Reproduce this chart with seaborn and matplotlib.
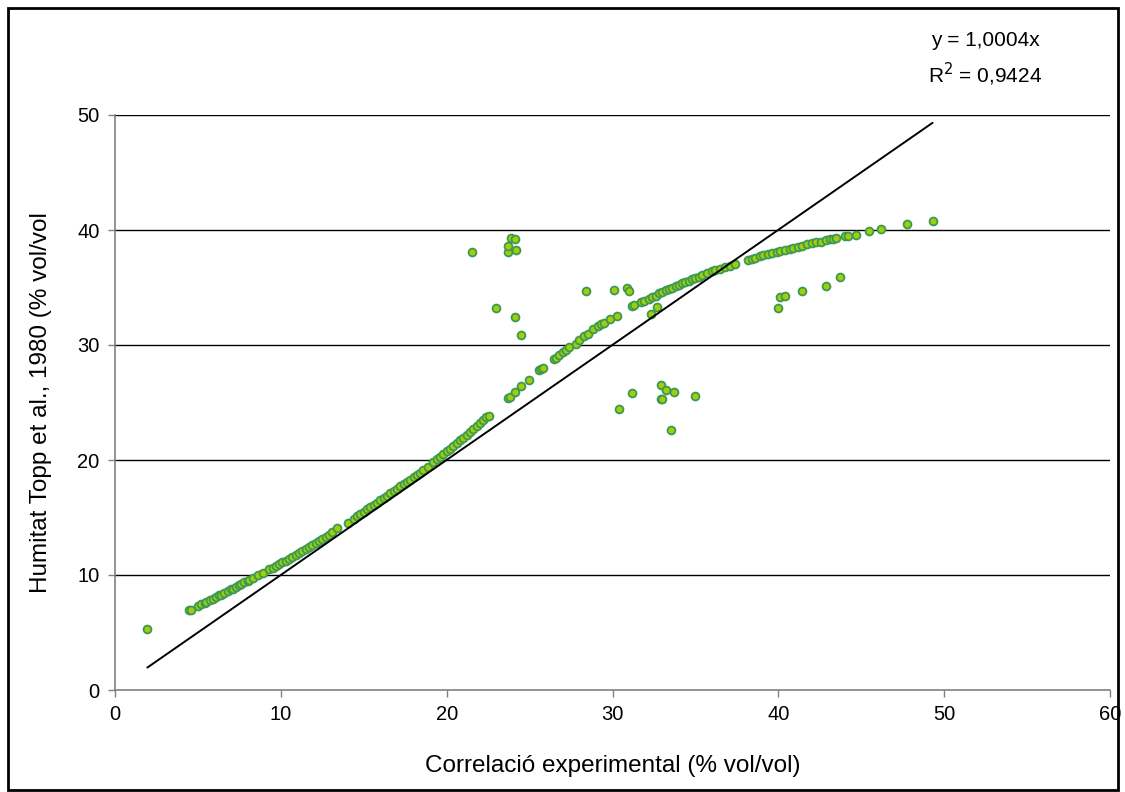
import matplotlib
matplotlib.use("Agg")
import matplotlib.pyplot as plt
from matplotlib.patches import Rectangle
import numpy as np
import pandas as pd
import seaborn as sns

# ---- data ----
curve_x = [
    4.47, 4.6, 5.0, 5.2, 5.4, 5.5, 5.7, 5.9, 6.1, 6.3, 6.4, 6.6, 6.8, 7.0, 7.1, 7.3, 7.5, 7.6, 7.8, 8.0,
    8.1, 8.3, 8.6, 8.9, 9.3, 9.5, 9.7, 9.9, 10.1, 10.3, 10.5, 10.7, 10.9, 11.1, 11.3, 11.5, 11.7, 11.9,
    12.1, 12.3, 12.5, 12.7, 12.9, 13.1, 13.4,
    14.04, 14.4, 14.6, 14.8, 15.0, 15.2, 15.4, 15.6, 15.8, 16.0, 16.2, 16.4, 16.6, 16.8, 17.0, 17.2,
    17.4, 17.6, 17.8, 18.0, 18.2, 18.4, 18.6, 18.9, 19.2, 19.4, 19.6, 19.8, 20.0, 20.2, 20.4, 20.6,
    20.8, 21.0, 21.2, 21.4, 21.6, 21.8, 22.0, 22.2, 22.4, 22.55,
    23.7, 23.8, 24.1, 24.5, 24.96, 25.56, 25.7, 25.8, 26.5, 26.6, 26.8, 27.0, 27.2, 27.4, 27.8, 28.0,
    28.3, 28.5, 28.8, 29.1, 29.3, 29.5, 29.85, 30.3,
    31.2, 31.3, 31.7, 31.9, 32.2, 32.4, 32.6, 32.8, 33.0, 33.2, 33.4, 33.6, 33.8, 34.0, 34.2, 34.4,
    34.6, 34.8, 35.0, 35.2, 35.4, 35.7, 36.0, 36.2, 36.5, 36.8, 37.1, 37.4,
    38.2, 38.4, 38.6, 38.9, 39.1, 39.4, 39.6, 39.9, 40.1, 40.4, 40.7, 40.9, 41.2, 41.4, 41.7, 42.0,
    42.3, 42.6, 42.9, 43.1, 43.3,
    43.5, 44.0, 44.2, 44.7, 45.46, 46.2, 47.75, 49.3,
]
curve_y = [
    6.96, 7.0, 7.3, 7.45, 7.6, 7.65, 7.8, 7.95, 8.1, 8.25, 8.3, 8.45, 8.6, 8.75, 8.8, 8.95, 9.1, 9.2, 9.35, 9.5,
    9.6, 9.75, 10.0, 10.2, 10.5, 10.65, 10.8, 10.95, 11.1, 11.25, 11.4, 11.55, 11.7, 11.9, 12.05, 12.25, 12.4, 12.6,
    12.75, 12.95, 13.1, 13.3, 13.5, 13.7, 14.05,
    14.5, 14.9, 15.1, 15.3, 15.5, 15.7, 15.9, 16.1, 16.3, 16.5, 16.7, 16.9, 17.1, 17.3, 17.5, 17.7,
    17.95, 18.1, 18.3, 18.5, 18.7, 18.9, 19.1, 19.4, 19.85, 20.05, 20.3, 20.5, 20.75, 21.0, 21.2, 21.45,
    21.7, 21.95, 22.2, 22.45, 22.7, 22.95, 23.2, 23.45, 23.7, 23.85,
    25.4, 25.5, 25.9, 26.4, 27.0, 27.8, 27.9, 28.0, 28.75, 28.9, 29.1, 29.35, 29.6, 29.85, 30.1, 30.4,
    30.8, 31.0, 31.4, 31.65, 31.8, 31.95, 32.3, 32.55,
    33.4, 33.5, 33.75, 33.85, 34.0, 34.15, 34.3, 34.5, 34.6, 34.75, 34.85, 35.0, 35.1, 35.25, 35.4, 35.5,
    35.6, 35.75, 35.85, 35.95, 36.1, 36.25, 36.4, 36.5, 36.6, 36.75, 36.9, 37.05,
    37.35, 37.45, 37.55, 37.7, 37.8, 37.9, 38.0, 38.05, 38.15, 38.25, 38.35, 38.45, 38.55, 38.6, 38.75, 38.9,
    38.95, 39.0, 39.1, 39.2, 39.25,
    39.3, 39.5, 39.5, 39.6, 39.9, 40.05, 40.5, 40.8,
]
outlier_x = [1.9, 21.5, 23.7, 23.7, 23.9, 24.1, 24.2, 22.96, 24.1, 24.5,
             28.4, 30.1, 30.9, 31.0, 32.3, 32.7,
             30.4, 31.2, 32.9, 33.2, 33.7, 32.9, 33.0, 33.5, 35.0,
             40.0, 40.1, 40.4, 41.4, 42.9, 43.7]
outlier_y = [5.3, 38.1, 38.1, 38.6, 39.3, 39.2, 38.3, 33.2, 32.4, 30.9,
             34.7, 34.8, 35.0, 34.7, 32.7, 33.3,
             24.4, 25.8, 26.5, 26.1, 25.9, 25.3, 25.3, 22.6, 25.6,
             33.2, 34.2, 34.3, 34.7, 35.1, 35.9]

fit_slope = 1.0004
fit_x = [1.95, 49.3]
equation_text = "y = 1,0004x"
r2_text = "R$^2$ = 0,9424"
x_ticks = [0, 10, 20, 30, 40, 50, 60]
y_ticks = [0, 10, 20, 30, 40, 50]
x_label = "Correlació experimental (% vol/vol)"
y_label = "Humitat Topp et al., 1980 (% vol/vol"

# ---- build table ----
df = pd.DataFrame({
    "x": list(curve_x) + list(outlier_x),
    "y": list(curve_y) + list(outlier_y),
})

sns.set_style("white")
plt.rcParams["font.family"] = ["Liberation Sans", "DejaVu Sans"]
plt.rcParams["text.color"] = "black"
plt.rcParams["axes.labelcolor"] = "black"
plt.rcParams["xtick.color"] = "black"
plt.rcParams["ytick.color"] = "black"

fig = plt.figure(figsize=(11.25, 7.92), dpi=100)
ax = fig.add_axes([115 / 1125, 1 - 690 / 792, 995 / 1125, 575 / 792])

for yv in y_ticks[1:]:
    ax.axhline(yv, color="#000000", lw=1.0, zorder=1)

sns.scatterplot(data=df, x="x", y="y", ax=ax, s=32, color="#a4cc08",
                edgecolor="#3a9a55", linewidth=1.3, zorder=3, legend=False)

fx = np.array(fit_x)
ax.plot(fx, fit_slope * fx, color="black", lw=1.4, zorder=4)

ax.set_xlim(0, 60)
ax.set_ylim(0, 50)
ax.set_xticks(x_ticks)
ax.set_yticks(y_ticks)
ax.tick_params(axis="both", labelsize=14.5, direction="out", length=5, width=1,
               color="#808080", labelcolor="black", bottom=True, left=True, pad=6)
for side in ["top", "right"]:
    ax.spines[side].set_visible(False)
for side in ["left", "bottom"]:
    ax.spines[side].set_color("#808080")
    ax.spines[side].set_linewidth(1.2)
    ax.spines[side].set_zorder(5)

ax.set_xlabel(x_label, fontsize=17.5, labelpad=22, color="black")
ax.set_ylabel(y_label, fontsize=17.5, labelpad=18, color="black")

fig.text(985 / 1125, 1 - 40 / 792, equation_text, ha="center", va="center", fontsize=15)
fig.text(985 / 1125, 1 - 74 / 792, r2_text, ha="center", va="center", fontsize=15)

fig.patches.append(Rectangle((8 / 1125, 2 / 792), 1110 / 1125, 782 / 792,
                             transform=fig.transFigure, fill=False,
                             edgecolor="black", lw=2))

fig.savefig("out.png", dpi=100)
